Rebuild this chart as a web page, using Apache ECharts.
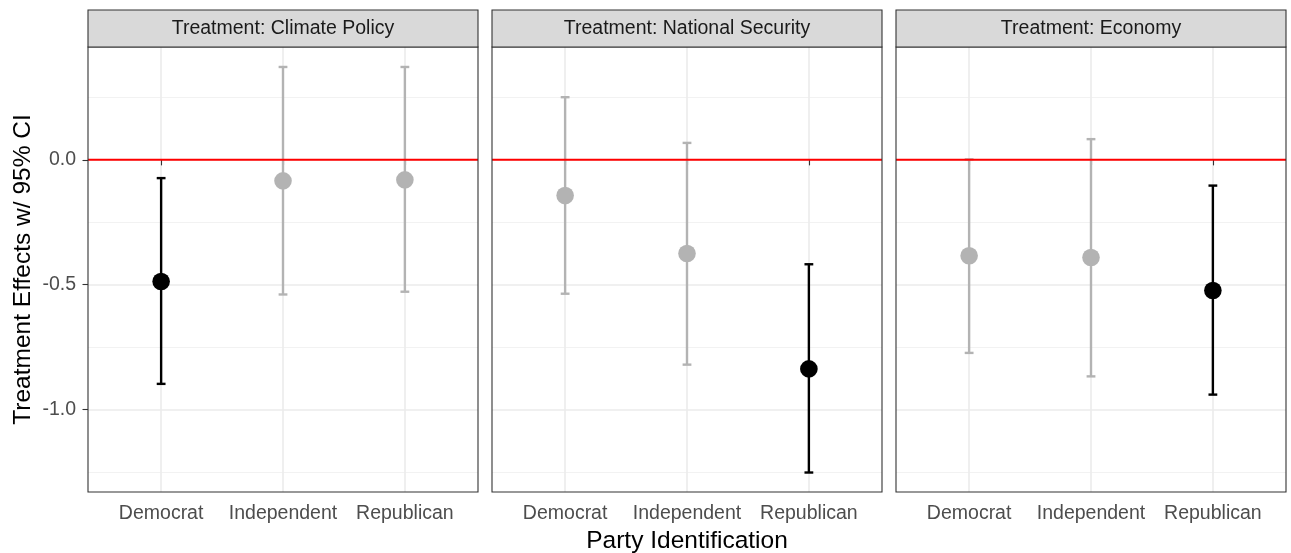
<!DOCTYPE html>
<html>
<head>
<meta charset="utf-8">
<title>Treatment Effects by Party Identification</title>
<script src="https://cdn.jsdelivr.net/npm/echarts@6/dist/echarts.min.js"></script>
<style>
  html, body { margin: 0; padding: 0; background: #ffffff; }
  #chart { width: 1291px; height: 553px; }
</style>
</head>
<body>
<div id="chart"></div>
<script>
// Party groups along the x axis (positions 1, 2, 3)
const categories = ['Democrat', 'Independent', 'Republican'];
const categoryPos = [1, 2, 3];

// Facet headers
const treatments = ['Treatment: Climate Policy', 'Treatment: National Security', 'Treatment: Economy'];

// Point estimates and 95% confidence bounds, one array per treatment
const climateEst = [-0.487, -0.084, -0.080];
const climateLo  = [-0.897, -0.539, -0.528];
const climateHi  = [-0.073,  0.372,  0.372];

const securityEst = [-0.143, -0.375, -0.837];
const securityLo  = [-0.536, -0.820, -1.252];
const securityHi  = [ 0.251,  0.068, -0.418];

const economyEst = [-0.384, -0.391, -0.523];
const economyLo  = [-0.773, -0.867, -0.940];
const economyHi  = [ 0.002,  0.083, -0.103];

// Axis ticks and ranges
const yMajorTicks = [-1.0, -0.5, 0.0];
const yMinorTicks = [-1.25, -0.75, -0.25, 0.25];
const yRange = [-1.33, 0.452];
const xRange = [0.4, 3.6];
const referenceLine = 0;

const panelData = [
  [climateEst, climateLo, climateHi],
  [securityEst, securityLo, securityHi],
  [economyEst, economyLo, economyHi]
];

// Panel geometry
const panelLeft = [88, 492, 896];
const panelWidth = 390;
const panelTop = 47;
const panelHeight = 445;
const stripTop = 10;
const stripHeight = 37;

const FONT = '"Liberation Sans", Arial, Helvetica, sans-serif';
const GREY = '#b3b3b3';
const BORDER = '#333333';

const chart = echarts.init(document.getElementById('chart'), null, { renderer: 'canvas' });

const grids = [], xAxes = [], yAxes = [], series = [], graphics = [];

panelData.forEach((arrs, i) => {
  const [est, lo, hi] = arrs;
  grids.push({
    left: panelLeft[i], top: panelTop, width: panelWidth, height: panelHeight,
    containLabel: false, outerBoundsMode: 'none',
    show: true, backgroundColor: '#ffffff', borderWidth: 0
  });

  xAxes.push({
    gridIndex: i, type: 'value', min: xRange[0], max: xRange[1],
    axisLine: { show: false },
    axisTick: { show: true, customValues: categoryPos, length: 5.5, lineStyle: { color: BORDER, width: 1.1 } },
    axisLabel: {
      show: true, customValues: categoryPos, margin: 12,
      color: '#4d4d4d', fontSize: 19.5, fontFamily: FONT,
      formatter: v => categories[Math.round(v) - 1]
    },
    splitLine: { show: true, lineStyle: { color: '#ebebeb', width: 1.6 } },
    name: i === 1 ? 'Party Identification' : '',
    nameLocation: 'middle', nameGap: 36,
    nameTextStyle: { color: '#000000', fontSize: 24.5, fontFamily: FONT }
  });

  // major horizontal grid + labels
  yAxes.push({
    gridIndex: i, type: 'value', min: yRange[0], max: yRange[1],
    axisLine: { show: false },
    axisTick: { show: i === 0, customValues: yMajorTicks, length: 5.5, lineStyle: { color: BORDER, width: 1.1 } },
    axisLabel: {
      show: i === 0, customValues: yMajorTicks, margin: 12,
      color: '#4d4d4d', fontSize: 19.5, fontFamily: FONT,
      formatter: v => v.toFixed(1)
    },
    splitLine: { show: true, lineStyle: { color: '#ebebeb', width: 1.6 } },
    name: i === 0 ? 'Treatment Effects w/ 95% CI' : '',
    nameLocation: 'middle', nameGap: 52, nameRotate: 90,
    nameTextStyle: { color: '#000000', fontSize: 24.5, fontFamily: FONT }
  });
  // minor horizontal grid
  yAxes.push({
    gridIndex: i, type: 'value', min: yRange[0], max: yRange[1],
    axisLine: { show: false },
    axisTick: { show: false, customValues: yMinorTicks },
    axisLabel: { show: false, customValues: yMinorTicks },
    splitLine: { show: true, lineStyle: { color: '#f2f2f2', width: 1.0 } }
  });

  const rows = categoryPos.map((x, k) => [x, est[k], lo[k], hi[k]]);

  series.push({
    type: 'custom',
    xAxisIndex: i, yAxisIndex: 2 * i,
    z: 2,
    silent: true,
    dimensions: ['x', 'est', 'lo', 'hi'],
    encode: { x: 0, y: [1, 2, 3] },
    data: rows,
    renderItem: (params, api) => {
      const x = api.value(0), e = api.value(1), l = api.value(2), h = api.value(3);
      const pL = api.coord([x, l]), pH = api.coord([x, h]), pE = api.coord([x, e]);
      const significant = h < 0 || l > 0;
      const color = significant ? '#000000' : GREY;
      const cap = 4.4, lw = 2.4;
      const st = { stroke: color, lineWidth: lw };
      return {
        type: 'group',
        children: [
          { type: 'line', shape: { x1: pL[0], y1: pL[1], x2: pH[0], y2: pH[1] }, style: st },
          { type: 'line', shape: { x1: pL[0] - cap, y1: pL[1], x2: pL[0] + cap, y2: pL[1] }, style: st },
          { type: 'line', shape: { x1: pH[0] - cap, y1: pH[1], x2: pH[0] + cap, y2: pH[1] }, style: st },
          { type: 'circle', shape: { cx: pE[0], cy: pE[1], r: 8.8 }, style: { fill: color } }
        ]
      };
    }
  });

  // zero reference line
  series.push({
    type: 'line',
    xAxisIndex: i, yAxisIndex: 2 * i,
    z: 3, silent: true,
    showSymbol: false, symbol: 'none',
    data: [[xRange[0], referenceLine], [xRange[1], referenceLine]],
    lineStyle: { color: '#ff0000', width: 2 }
  });

  // panel border
  graphics.push({
    type: 'rect', z: 100, silent: true,
    shape: { x: panelLeft[i], y: panelTop, width: panelWidth, height: panelHeight },
    style: { fill: null, stroke: BORDER, lineWidth: 1.1 }
  });
  // strip header
  graphics.push({
    type: 'rect', z: 100, silent: true,
    shape: { x: panelLeft[i], y: stripTop, width: panelWidth, height: stripHeight },
    style: { fill: '#d9d9d9', stroke: BORDER, lineWidth: 1.1 }
  });
  graphics.push({
    type: 'text', z: 101, silent: true,
    x: panelLeft[i] + panelWidth / 2, y: stripTop + stripHeight / 2,
    style: {
      text: treatments[i], fill: '#1a1a1a', fontSize: 19.5, fontFamily: FONT,
      align: 'center', verticalAlign: 'middle'
    }
  });
});

chart.setOption({
  animation: false,
  backgroundColor: '#ffffff',
  grid: grids,
  xAxis: xAxes,
  yAxis: yAxes,
  series: series,
  graphic: { elements: graphics }
});
</script>
</body>
</html>
